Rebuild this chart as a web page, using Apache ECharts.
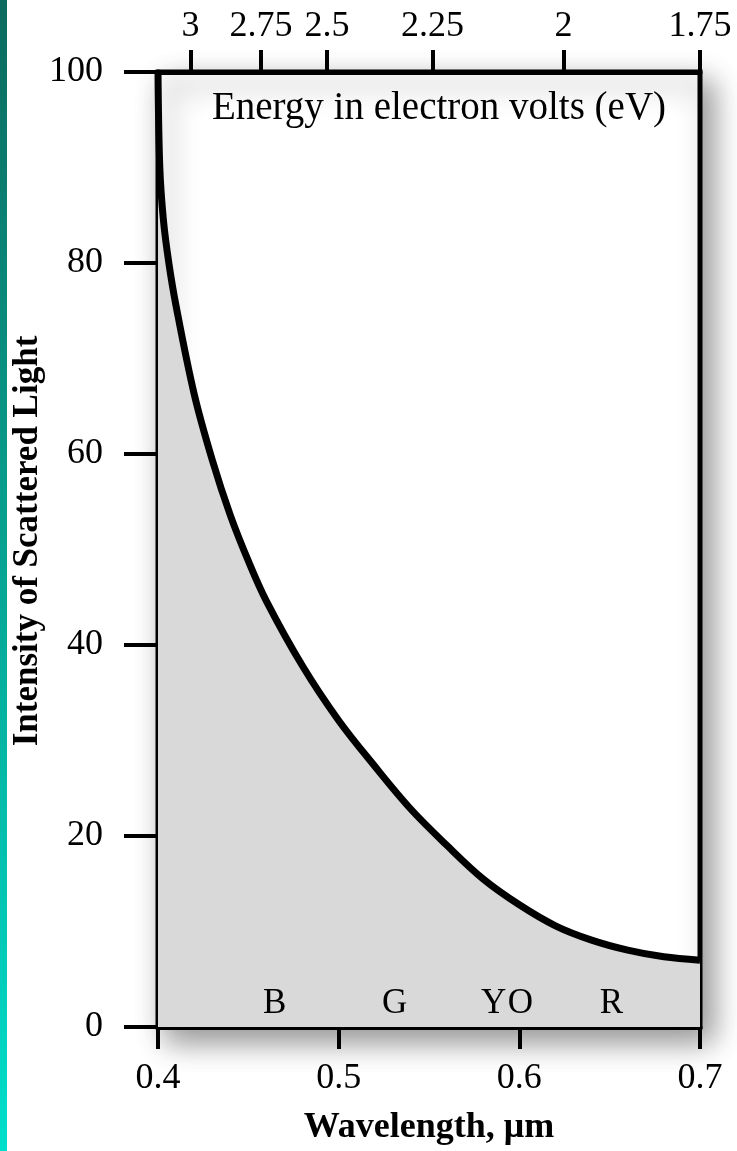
<!DOCTYPE html>
<html>
<head>
<meta charset="utf-8">
<script src="https://cdn.jsdelivr.net/npm/echarts@6/dist/echarts.min.js"></script>
<style>
  html, body { margin: 0; padding: 0; background: #fff; }
  #chart { width: 737px; height: 1151px; }
</style>
</head>
<body>
<div id="chart"></div>
<script>
// Scattered light intensity versus wavelength (µm)
const wavelength = [0.400, 0.401, 0.403, 0.406, 0.410, 0.420, 0.430, 0.440, 0.450, 0.460,
                    0.480, 0.500, 0.520, 0.540, 0.560, 0.580, 0.600, 0.620, 0.640, 0.660,
                    0.680, 0.700];
const intensity  = [100.0, 90.0, 84.5, 80.0, 75.5, 66.3, 59.4, 53.6, 48.8, 44.6,
                    37.8, 32.1, 27.3, 22.8, 19.0, 15.5, 12.8, 10.6, 9.1, 8.05,
                    7.35, 7.0];

// Bottom axis ticks (wavelength) and left axis ticks (intensity)
const wavelengthTicks = [0.4, 0.5, 0.6, 0.7];
const intensityTicks = [0, 20, 40, 60, 80, 100];

// Top axis: photon energy labels and where they sit along the wavelength scale
const energyTicks = [3, 2.75, 2.5, 2.25, 2, 1.75];
const energyAtWavelength = [0.418, 0.457, 0.4935, 0.552, 0.6245, 0.7];

// Colour band letters along the bottom of the plot
const bandNames = ['B', 'G', 'Y', 'O', 'R'];
const bandWavelength = [0.4648, 0.5312, 0.5860, 0.6009, 0.6513];
const bandLevel = [2.4, 2.4, 2.4, 2.4, 2.4];

const FONT = "'Liberation Serif', 'Times New Roman', serif";
const BLACK = '#000';
const FILL = '#d9d9d9';

const chart = echarts.init(document.getElementById('chart'), null, { renderer: 'canvas' });

const curveData = wavelength.map((w, i) => [w, intensity[i]]);
const bandData = bandNames.map((n, i) => ({ name: n, value: [bandWavelength[i], bandLevel[i]] }));

const option = {
  backgroundColor: '#fff',
  animation: false,
  graphic: [{
    type: 'rect',
    left: 0, top: 0, z: 0,
    shape: { width: 7, height: 1151 },
    style: {
      fill: new echarts.graphic.LinearGradient(0, 0, 0, 1, [
        { offset: 0, color: '#0c6a5e' },
        { offset: 0.5, color: '#07a594' },
        { offset: 1, color: '#00dfcb' }
      ])
    }
  }],
  grid: {
    left: 158, right: 37, top: 72, bottom: 124,
    outerBoundsMode: 'none',
    containLabel: false,
    show: true,
    backgroundColor: '#fff',
    borderColor: BLACK,
    borderWidth: 5,
    shadowColor: 'rgba(0,0,0,0.42)',
    shadowBlur: 28,
    shadowOffsetX: 10,
    shadowOffsetY: 12
  },
  xAxis: [{
    type: 'value',
    position: 'bottom',
    min: wavelengthTicks[0],
    max: wavelengthTicks[wavelengthTicks.length - 1],
    interval: 0.1,
    splitLine: { show: false },
    axisLine: { show: true, lineStyle: { color: BLACK, width: 5 } },
    axisTick: { show: true, inside: false, length: 22, lineStyle: { color: BLACK, width: 4 } },
    axisLabel: {
      show: true, margin: 34, color: BLACK, fontFamily: FONT, fontSize: 36,
      formatter: v => v.toFixed(1)
    },
    name: 'Wavelength, \u03bcm',
    nameLocation: 'middle',
    nameGap: 83,
    nameMoveOverlap: false,
    nameTextStyle: { color: BLACK, fontFamily: FONT, fontSize: 36, fontWeight: 'bold' }
  }, {
    type: 'value',
    position: 'top',
    min: wavelengthTicks[0],
    max: wavelengthTicks[wavelengthTicks.length - 1],
    splitLine: { show: false },
    axisLine: { show: true, lineStyle: { color: BLACK, width: 5 } },
    axisTick: {
      show: true, inside: false, length: 22,
      customValues: energyAtWavelength,
      lineStyle: { color: BLACK, width: 4 }
    },
    axisLabel: {
      show: true, margin: 27, color: BLACK, fontFamily: FONT, fontSize: 36,
      customValues: energyAtWavelength,
      formatter: v => {
        const i = energyAtWavelength.findIndex(p => Math.abs(p - v) < 1e-6);
        return i >= 0 ? String(energyTicks[i]) : '';
      }
    },
    name: 'Energy in electron volts (eV)',
    nameLocation: 'middle',
    nameGap: -37,
    nameMoveOverlap: false,
    nameTextStyle: {
      color: BLACK, fontFamily: FONT, fontSize: 39, verticalAlign: 'middle',
      padding: [0, 0, 0, 20]
    }
  }],
  yAxis: [{
    type: 'value',
    min: intensityTicks[0],
    max: intensityTicks[intensityTicks.length - 1],
    interval: 20,
    splitLine: { show: false },
    axisLine: { show: true, lineStyle: { color: BLACK, width: 5 } },
    axisTick: { show: true, inside: false, length: 34, lineStyle: { color: BLACK, width: 4 } },
    axisLabel: { show: true, margin: 55, color: BLACK, fontFamily: FONT, fontSize: 36 },
    name: 'Intensity of Scattered Light',
    nameLocation: 'middle',
    nameGap: 113,
    nameMoveOverlap: false,
    nameTextStyle: {
      color: BLACK, fontFamily: FONT, fontSize: 35, fontWeight: 'bold',
      padding: [0, 0, 0, 17]
    }
  }],
  series: [{
    type: 'line',
    data: curveData,
    smooth: 0.35,
    symbol: 'none',
    clip: false,
    lineStyle: { color: BLACK, width: 7 },
    areaStyle: { color: FILL, opacity: 1 },
    z: 2
  }, {
    type: 'scatter',
    data: bandData,
    symbol: 'circle',
    symbolSize: 1,
    itemStyle: { color: FILL },
    label: {
      show: true, position: [0, 0], align: 'center', verticalAlign: 'middle',
      formatter: p => p.name,
      color: '#000', opacity: 1, fontFamily: FONT, fontSize: 35,
      textBorderWidth: 0
    },
    z: 3
  }]
};

chart.setOption(option);
</script>
</body>
</html>
